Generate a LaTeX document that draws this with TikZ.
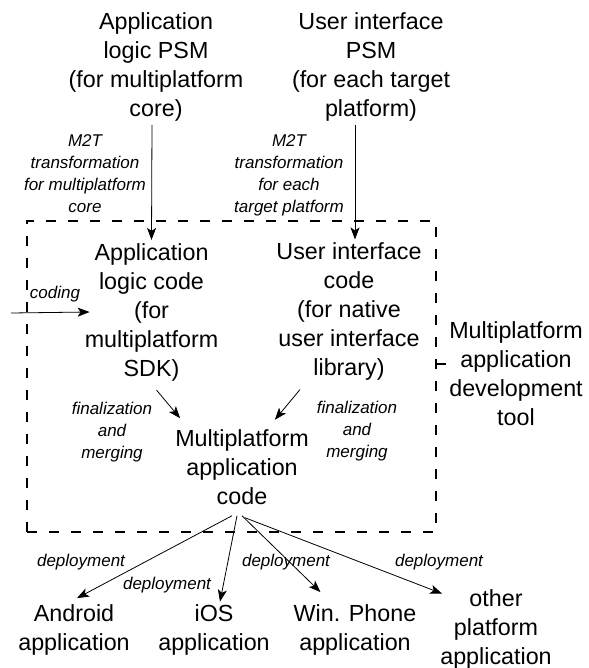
\documentclass[tikz,border=0pt]{standalone}
\usepackage{fontspec}
\setmainfont{Liberation Sans}
\usetikzlibrary{arrows.meta}
\begin{document}
\begin{tikzpicture}[x=1pt,y=-1pt,
  big/.style={font=\fontsize{23.3}{29}\selectfont, align=center, inner sep=3pt},
  lbl/.style={font=\fontsize{17}{22}\selectfont\itshape, align=center, inner sep=0pt},
  arr/.style={line width=0.8pt, -{Stealth[length=12pt,width=9pt,inset=3pt]}},
  frame/.style={draw, line width=1.8pt, dash pattern=on 10pt off 12pt, inner sep=0pt, outer sep=0pt},
  toolline/.style={line width=2.6pt}]
\useasboundingbox (0,0) rectangle (588,668);
% frame
\node[frame, minimum width=409pt, minimum height=311pt] (box) at (231.5,376.5) {};
% top PSM nodes
\node[big] (top1) at (156,67.2) {Application\\logic PSM\\(for multiplatform\\core)};
\node[big] (top2) at (371,67) {User interface\\PSM\\(for each target\\platform)};
% code nodes
\node[big] (code1) at (151.5,312) {Application\\logic code\\(for\\multiplatform\\SDK)};
\node[big] (code2) at (349,311.5) {User interface\\code\\(for native\\user interface\\library)};
\node[big] (mp) at (242,467) {Multiplatform\\application\\code};
\node[big] (tool) at (516,374) {Multiplatform\\application\\development\\tool};
% targets
\node[big] (andr) at (74,630.2) {Android\\application};
\node[big] (ios) at (214,630.2) {iOS\\application};
\node[big] (win) at (355,630.2) {Win. Phone\\application};
\node[big] (other) at (496,629.2) {other\\platform\\application};
% labels
\node[lbl] (m2t1) at (85,173.4) {M2T\\transformation\\for multiplatform\\core};
\node[lbl] (m2t2) at (289,175.2) {M2T\\transformation\\for each\\target platform};
\node[lbl, anchor=base] (cod) at (55,298) {coding};
\node[lbl] (fin1) at (112,432.5) {finalization\\and\\merging};
\node[lbl] (fin2) at (357,431) {finalization\\and\\merging};
\node[lbl, anchor=base] (dep1) at (81,566) {deployment};
\node[lbl, anchor=base] (dep2) at (167,589) {deployment};
\node[lbl, anchor=base] (dep3) at (286,566) {deployment};
\node[lbl, anchor=base] (dep4) at (439,566) {deployment};
% connectors
\coordinate (cin) at (11,313);
\draw[arr] ([xshift=-4pt]top1.south) -- (code1.north);
\draw[arr] ([xshift=-16pt]top2.south) -- ([xshift=6pt]code2.north);
\draw[arr] (cin) -- ([xshift=8pt]code1.west);
\draw[arr] ([xshift=5pt,yshift=-6pt]code1.south) -- ([xshift=8pt,yshift=8pt]mp.north west);
\draw[arr] ([xshift=-49pt,yshift=-6pt]code2.south) -- ([xshift=-37pt,yshift=6.5pt]mp.north east);
\draw[arr] ([xshift=-10pt,yshift=-8pt]mp.south) -- ([xshift=3pt,yshift=3.5pt]andr.north);
\draw[arr] ([xshift=-5pt,yshift=-8pt]mp.south) -- ([xshift=6pt]ios.north);
\draw[arr] ([yshift=-8pt]mp.south) -- ([xshift=30pt,yshift=9.5pt]win.north west);
\draw[arr] ([xshift=3pt,yshift=-10pt]mp.south) -- ([xshift=5pt,yshift=-7.5pt]other.north west);
\draw[toolline] ([yshift=12.5pt]box.east) -- ([yshift=12.5pt]box.east -| tool.west);
\end{tikzpicture}
\end{document}
